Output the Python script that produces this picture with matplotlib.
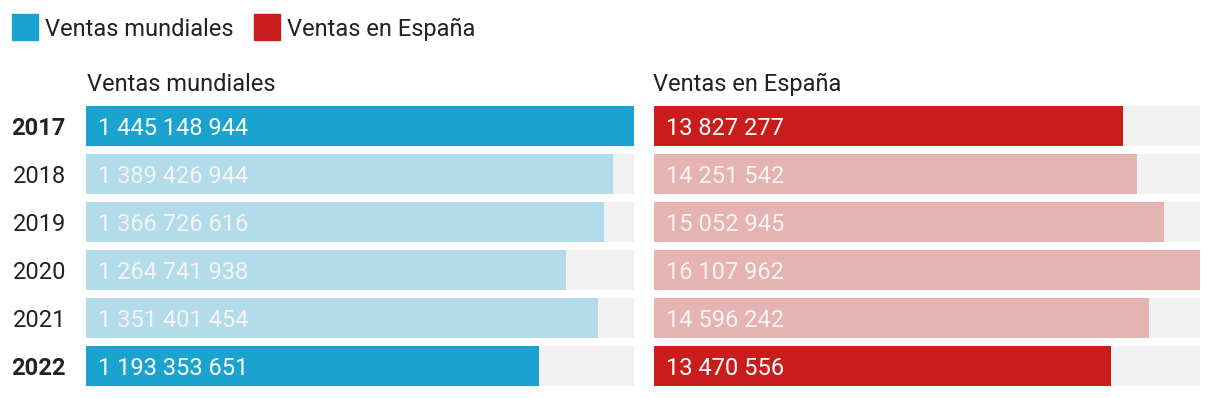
import matplotlib.pyplot as plt
from matplotlib.patches import Rectangle

plt.rcParams['font.family'] = ['Roboto', 'DejaVu Sans']

years = ['2017', '2018', '2019', '2020', '2021', '2022']
ventas_mundiales = [1445148944, 1389426944, 1366726616, 1264741938, 1351401454, 1193353651]
ventas_espana = [13827277, 14251542, 15052945, 16107962, 14596242, 13470556]
destacados = ['2017', '2022']

titulo_mundo = 'Ventas mundiales'
titulo_espana = 'Ventas en España'

AZUL = '#1aa3cf'
AZUL_CLARO = '#b3dcea'
ROJO = '#c91d1d'
ROJO_CLARO = '#e6b3b3'
GRIS = '#f2f2f2'
TEXTO = '#222222'
FS = 17

W, H = 1220, 398
fig = plt.figure(figsize=(W / 100, H / 100), dpi=100)


def fmt(v):
    return f'{v:,}'.replace(',', ' ')


def panel(x0, x1, values, color, light, title, tx):
    ax = fig.add_axes([x0 / W, 1 - 386 / H, (x1 - x0) / W, 280 / H])
    vmax = max(values)
    n = len(values)
    for i, (y, v) in enumerate(zip(years, values)):
        strong = y in destacados
        ax.barh(i, vmax, height=40 / 48, color=GRIS, zorder=1)
        ax.barh(i, v, height=40 / 48, color=color if strong else light, zorder=2)
        ax.text(vmax * 12 / (x1 - x0), i, fmt(v), va='center_baseline',
                ha='left', fontsize=FS,
                color='white' if strong else '#f4f4f4', zorder=3)
    ax.set_xlim(0, vmax)
    ax.set_ylim(n - 0.5 - 4 / 48, -0.5 + 4 / 48)
    ax.axis('off')
    fig.text(tx / W, 1 - 82 / H, title, fontsize=FS, color=TEXTO,
             va='center_baseline', ha='left')
    return ax


panel(86, 634, ventas_mundiales, AZUL, AZUL_CLARO, titulo_mundo, 87)
panel(654, 1200, ventas_espana, ROJO, ROJO_CLARO, titulo_espana, 653)

# etiquetas de años
for i, y in enumerate(years):
    fig.text(66 / W, 1 - (126 + 48 * i) / H, y, ha='right',
             va='center_baseline', fontsize=FS, color=TEXTO,
             fontweight='bold' if y in destacados else 'normal')

# leyenda
for sx, col, lab in [(12, AZUL, titulo_mundo), (254, ROJO, titulo_espana)]:
    fig.patches.append(Rectangle((sx / W, 1 - 40 / H), 26 / W, 26 / H,
                                 transform=fig.transFigure, color=col))
    fig.text((sx + 33) / W, 1 - 27 / H, lab, fontsize=FS, color=TEXTO,
             va='center_baseline', ha='left')

fig.savefig('out.png', dpi=100)
